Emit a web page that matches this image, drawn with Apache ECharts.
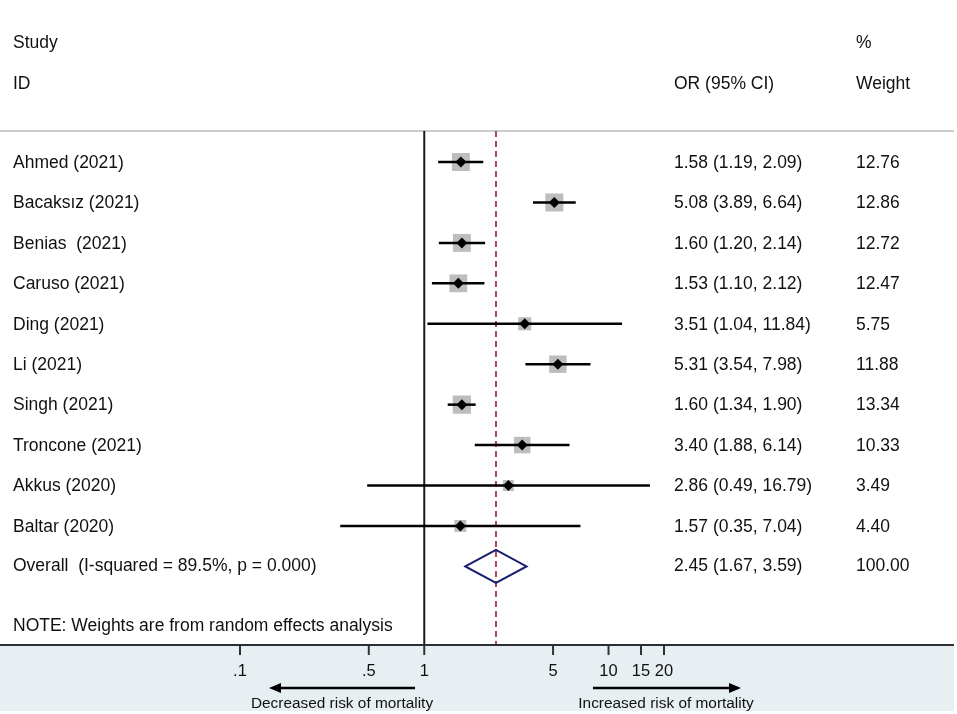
<!DOCTYPE html>
<html>
<head>
<meta charset="utf-8">
<script src="https://cdn.jsdelivr.net/npm/echarts@6/dist/echarts.min.js"></script>
<style>
html,body{margin:0;padding:0;background:#fff;}
#chart{width:957px;height:714px;}
</style>
</head>
<body>
<div id="chart"></div>
<script>
const studies = ['Ahmed (2021)', 'Bacaksız (2021)', 'Benias  (2021)', 'Caruso (2021)', 'Ding (2021)', 'Li (2021)', 'Singh (2021)', 'Troncone (2021)', 'Akkus (2020)', 'Baltar (2020)'];
const orValues = [1.58, 5.08, 1.60, 1.53, 3.51, 5.31, 1.60, 3.40, 2.86, 1.57];
const ciLower  = [1.19, 3.89, 1.20, 1.10, 1.04, 3.54, 1.34, 1.88, 0.49, 0.35];
const ciUpper  = [2.09, 6.64, 2.14, 2.12, 11.84, 7.98, 1.90, 6.14, 16.79, 7.04];
const weights  = [12.76, 12.86, 12.72, 12.47, 5.75, 11.88, 13.34, 10.33, 3.49, 4.40];
const overallLabel = 'Overall  (I-squared = 89.5%, p = 0.000)';
const overallOR = 2.45;
const overallLower = 1.67;
const overallUpper = 3.59;
const overallWeight = 100.00;
const tickValues = [0.1, 0.5, 1, 5, 10, 15, 20];
const tickLabels = ['.1', '.5', '1', '5', '10', '15', '20'];
const noteText = 'NOTE: Weights are from random effects analysis';

const FONT = '"Liberation Sans", Arial, sans-serif';
const BODY = '17.5px ' + FONT;
const TXT = '#111';
const COL_STUDY = 13, COL_OR = 674, COL_W = 856;

function fmtCI(o, l, h) {
  return o.toFixed(2) + ' (' + l.toFixed(2) + ', ' + h.toFixed(2) + ')';
}

const chart = echarts.init(document.getElementById('chart'), null, {renderer: 'canvas'});

const option = {
  animation: false,
  backgroundColor: '#fff',
  grid: {left: 240, right: 293, top: 131, bottom: 69},
  xAxis: {type: 'log', logBase: 10, min: 0.1, max: 20, show: false},
  yAxis: {type: 'value', inverse: true, min: -0.767, max: 11.944, show: false},
  graphic: [
    {type: 'rect', z: -10, shape: {x: 0, y: 646, width: 954, height: 65}, style: {fill: '#e8eff2'}},
    {type: 'line', z: -5, shape: {x1: 0, y1: 131, x2: 954, y2: 131}, style: {stroke: '#cccccc', lineWidth: 2}},
    {type: 'line', z: 50, shape: {x1: 0, y1: 645, x2: 954, y2: 645}, style: {stroke: '#2b2f31', lineWidth: 2.2}},
    {type: 'text', style: {text: 'Study', x: COL_STUDY, y: 43, font: BODY, fill: TXT, verticalAlign: 'middle'}},
    {type: 'text', style: {text: 'ID', x: COL_STUDY, y: 84, font: BODY, fill: TXT, verticalAlign: 'middle'}},
    {type: 'text', style: {text: 'OR (95% CI)', x: COL_OR, y: 84, font: BODY, fill: TXT, verticalAlign: 'middle'}},
    {type: 'text', style: {text: '%', x: COL_W, y: 43, font: BODY, fill: TXT, verticalAlign: 'middle'}},
    {type: 'text', style: {text: 'Weight', x: COL_W, y: 84, font: BODY, fill: TXT, verticalAlign: 'middle'}},
    {type: 'text', style: {text: noteText, x: COL_STUDY, y: 626, font: BODY, fill: TXT, verticalAlign: 'middle'}},
    {type: 'line', shape: {x1: 415, y1: 688, x2: 278, y2: 688}, style: {stroke: '#000', lineWidth: 2.5}},
    {type: 'polygon', shape: {points: [[269, 688], [281, 683], [281, 693]]}, style: {fill: '#000'}},
    {type: 'line', shape: {x1: 593, y1: 688, x2: 731, y2: 688}, style: {stroke: '#000', lineWidth: 2.5}},
    {type: 'polygon', shape: {points: [[741, 688], [729, 683], [729, 693]]}, style: {fill: '#000'}},
    {type: 'text', style: {text: 'Decreased risk of mortality', x: 342, y: 704, font: '15.4px ' + FONT, fill: TXT, align: 'center', verticalAlign: 'middle'}},
    {type: 'text', style: {text: 'Increased risk of mortality', x: 666, y: 704, font: '15.4px ' + FONT, fill: TXT, align: 'center', verticalAlign: 'middle'}}
  ],
  series: [
    {
      name: 'refLines',
      type: 'custom',
      data: [[1, 0], [overallOR, 0]],
      encode: {x: 0, y: 1},
      renderItem: function (params, api) {
        const cs = params.coordSys;
        const x = api.coord([api.value(0), 0])[0];
        const solid = params.dataIndex === 0;
        return {
          type: 'line',
          shape: {x1: x, y1: cs.y, x2: x, y2: cs.y + cs.height},
          style: solid
            ? {stroke: '#1a1a1a', lineWidth: 2}
            : {stroke: '#b04656', lineWidth: 2, lineDash: [6, 4]}
        };
      }
    },
    {
      name: 'ticks',
      type: 'custom',
      data: tickValues.map(function (v) { return [v, 0]; }),
      encode: {x: 0, y: 1},
      renderItem: function (params, api) {
        const cs = params.coordSys;
        const x = api.coord([api.value(0), 0])[0];
        const b = cs.y + cs.height;
        return {
          type: 'group',
          children: [
            {type: 'line', shape: {x1: x, y1: b, x2: x, y2: b + 10}, style: {stroke: '#333', lineWidth: 2}},
            {type: 'text', style: {text: tickLabels[params.dataIndex], x: x, y: b + 26, font: '16.5px ' + FONT, fill: TXT, align: 'center', verticalAlign: 'middle'}}
          ]
        };
      }
    },
    {
      name: 'studies',
      type: 'custom',
      data: studies.map(function (s, i) { return [orValues[i], ciLower[i], ciUpper[i], i, weights[i]]; }),
      encode: {x: [0, 1, 2], y: 3},
      renderItem: function (params, api) {
        const i = params.dataIndex;
        const row = api.value(3);
        const c = api.coord([api.value(0), row]);
        const l = api.coord([api.value(1), row]);
        const h = api.coord([api.value(2), row]);
        const s = 3.3 + 4.1 * Math.sqrt(api.value(4));
        return {
          type: 'group',
          children: [
            {type: 'rect', shape: {x: c[0] - s / 2, y: c[1] - s / 2, width: s, height: s}, style: {fill: '#bdbdbd'}},
            {type: 'line', shape: {x1: l[0], y1: l[1], x2: h[0], y2: h[1]}, style: {stroke: '#000', lineWidth: 2.5}},
            {type: 'polygon', shape: {points: [[c[0] - 5.5, c[1]], [c[0], c[1] - 5.5], [c[0] + 5.5, c[1]], [c[0], c[1] + 5.5]]}, style: {fill: '#000'}},
            {type: 'text', style: {text: studies[i], x: COL_STUDY, y: c[1] + 1, font: BODY, fill: TXT, verticalAlign: 'middle'}},
            {type: 'text', style: {text: fmtCI(api.value(0), api.value(1), api.value(2)), x: COL_OR, y: c[1] + 1, font: BODY, fill: TXT, verticalAlign: 'middle'}},
            {type: 'text', style: {text: api.value(4).toFixed(2), x: COL_W, y: c[1] + 1, font: BODY, fill: TXT, verticalAlign: 'middle'}}
          ]
        };
      }
    },
    {
      name: 'overall',
      type: 'custom',
      data: [[overallOR, overallLower, overallUpper, studies.length, overallWeight]],
      encode: {x: [0, 1, 2], y: 3},
      renderItem: function (params, api) {
        const row = api.value(3);
        const c = api.coord([api.value(0), row]);
        const l = api.coord([api.value(1), row]);
        const h = api.coord([api.value(2), row]);
        const top = api.coord([api.value(0), row - 0.41]);
        const bot = api.coord([api.value(0), row + 0.41]);
        return {
          type: 'group',
          children: [
            {type: 'polygon', shape: {points: [[l[0], c[1]], [top[0], top[1]], [h[0], c[1]], [bot[0], bot[1]]]}, style: {fill: 'none', stroke: '#1b1d6e', lineWidth: 2}},
            {type: 'text', style: {text: overallLabel, x: COL_STUDY, y: c[1], font: BODY, fill: TXT, verticalAlign: 'middle'}},
            {type: 'text', style: {text: fmtCI(api.value(0), api.value(1), api.value(2)), x: COL_OR, y: c[1], font: BODY, fill: TXT, verticalAlign: 'middle'}},
            {type: 'text', style: {text: api.value(4).toFixed(2), x: COL_W, y: c[1], font: BODY, fill: TXT, verticalAlign: 'middle'}}
          ]
        };
      }
    }
  ]
};
chart.setOption(option);
</script>
</body>
</html>
